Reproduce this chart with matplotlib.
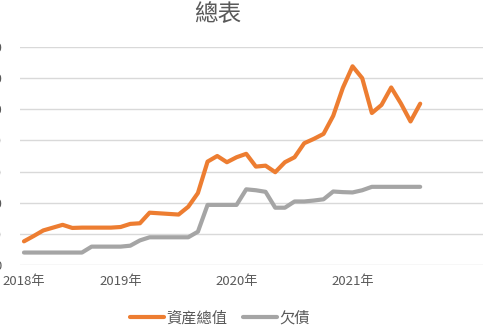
import numpy as np
import matplotlib
matplotlib.use("Agg")
import matplotlib.pyplot as plt

plt.rcParams['font.family'] = ['Noto Sans CJK TC', 'DejaVu Sans']

# monthly values from 2018-03 to 2021-08
assets = [76, 93, 111, 120, 129, 119, 120, 120, 120, 120, 122, 132, 134, 168,
          166, 164, 162, 187, 231, 332, 350, 330, 346, 357, 316, 319, 298, 330,
          346, 391, 405, 421, 479, 569, 638, 600, 488, 514, 570, 519, 461, 518]
debts = [40, 40, 40, 40, 40, 40, 40, 59, 59, 59, 59, 62, 79, 89,
         89, 89, 89, 89, 107, 193, 193, 193, 193, 243, 240, 235, 184, 184,
         204, 204, 207, 211, 236, 234, 233, 240, 251, 251, 251, 251, 251, 251]
year_pos = [0, 10, 22, 34]
year_labels = ['2018年', '2019年', '2020年', '2021年']
y_ticks = [0, 100, 200, 300, 400, 500, 600, 700]

text_c = '#595959'
W, H = 488, 329
fig = plt.figure(figsize=(W / 100, H / 100), dpi=100)
ax = fig.add_axes([20 / W, 1 - 265 / H, 463 / W, 218 / H])

x = np.arange(len(assets))
ax.plot(x, assets, color='#ED7D31', lw=3, solid_capstyle='round',
        solid_joinstyle='round', label='資産總值')
ax.plot(x, debts, color='#A5A5A5', lw=3, solid_capstyle='round',
        solid_joinstyle='round', label='欠債')

ax.set_xlim(-0.41, 47.5)
ax.set_ylim(0, 700)
ax.set_yticks(y_ticks)
ax.set_yticklabels([str(v) for v in y_ticks])
ax.set_xticks(year_pos)
ax.set_xticklabels(year_labels)
ax.tick_params(axis='y', length=0, pad=13, labelsize=9.5, labelcolor=text_c)
ax.tick_params(axis='x', length=0, pad=7, labelsize=9.5, labelcolor=text_c)
ax.grid(axis='y', color='#D9D9D9', lw=1)
ax.set_axisbelow(True)
for s in ax.spines.values():
    s.set_visible(False)

fig.text(217.5 / W, 1 - 15 / H, '總表', ha='center', va='center',
         fontsize=17, color=text_c)

fig.legend(loc='center', bbox_to_anchor=(220 / W, 1 - 318 / H), ncol=2,
           frameon=False, fontsize=11, labelcolor=text_c, handlelength=2.2,
           handletextpad=0.2, columnspacing=1.0)

fig.savefig('out.png', dpi=100)
